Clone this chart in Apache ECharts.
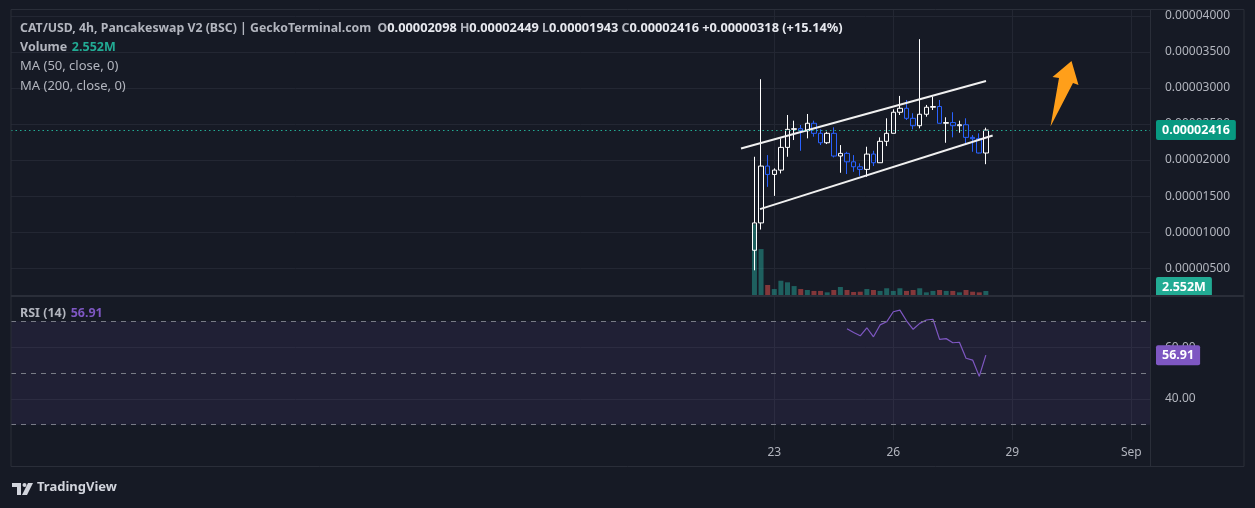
<!DOCTYPE html>
<html><head><meta charset="utf-8">
<script src="https://cdn.jsdelivr.net/npm/echarts@6/dist/echarts.min.js"></script>
<style>html,body{margin:0;padding:0;background:#161a25;}#c{width:1255px;height:508px;}</style>
</head><body><div id="c"></div>
<script>
// ---- data (4h bars, CAT/USD) ----
const times = ['08-22 12:00','08-22 16:00','08-22 20:00',
  '08-23 00:00','08-23 04:00','08-23 08:00','08-23 12:00','08-23 16:00','08-23 20:00',
  '08-24 00:00','08-24 04:00','08-24 08:00','08-24 12:00','08-24 16:00','08-24 20:00',
  '08-25 00:00','08-25 04:00','08-25 08:00','08-25 12:00','08-25 16:00','08-25 20:00',
  '08-26 00:00','08-26 04:00','08-26 08:00','08-26 12:00','08-26 16:00','08-26 20:00',
  '08-27 00:00','08-27 04:00','08-27 08:00','08-27 12:00','08-27 16:00','08-27 20:00',
  '08-28 00:00','08-28 04:00','08-28 08:00'];
const opens  = [0.00000750,0.00001129,0.00001917,0.00001801,0.00001861,0.00002176,0.00002426,0.00002435,0.00002407,0.00002510,0.00002371,0.00002240,
                0.00002371,0.00002056,0.00002093,0.00001976,0.00001907,0.00001871,0.00002083,0.00001963,0.00002260,0.00002371,0.00002663,0.00002718,
                0.00002579,0.00002476,0.00002635,0.00002732,0.00002742,0.00002510,0.00002520,0.00002476,0.00002490,0.00002315,0.00002296,0.00002098];
const highs  = [0.00002046,0.00003121,0.00002069,0.00001885,0.00002300,0.00002625,0.00002546,0.00002486,0.00002639,0.00002546,0.00002426,0.00002393,
                0.00002454,0.00002208,0.00002115,0.00002069,0.00001954,0.00002185,0.00002129,0.00002315,0.00002579,0.00002704,0.00002889,0.00002833,
                0.00002649,0.00003676,0.00002764,0.00002879,0.00002833,0.00002593,0.00002663,0.00002546,0.00002579,0.00002347,0.00002371,0.00002449];
const lows   = [0.00000472,0.00001037,0.00001629,0.00001504,0.00001815,0.00002046,0.00002278,0.00002129,0.00002301,0.00002324,0.00002208,0.00002222,
                0.00002037,0.00001824,0.00001806,0.00001837,0.00001782,0.00001768,0.00001917,0.00001963,0.00002194,0.00002371,0.00002625,0.00002556,
                0.00002426,0.00002440,0.00002601,0.00002694,0.00002510,0.00002240,0.00002315,0.00002379,0.00002208,0.00002115,0.00002093,0.00001943];
const closes = [0.00001129,0.00001917,0.00001801,0.00001861,0.00002176,0.00002426,0.00002435,0.00002407,0.00002510,0.00002371,0.00002240,0.00002371,
                0.00002056,0.00002093,0.00001976,0.00001907,0.00001871,0.00002083,0.00001963,0.00002260,0.00002371,0.00002663,0.00002718,0.00002579,
                0.00002476,0.00002635,0.00002732,0.00002742,0.00002510,0.00002520,0.00002476,0.00002490,0.00002315,0.00002296,0.00002098,0.00002416];
const volumesM = [45.1,29.3,6.4,3.8,9.1,8.1,5.7,3.8,3.2,2.6,2.6,1.7,
                  3.2,5.1,3.2,1.9,2.1,3.8,3.2,2.6,4.3,2.6,4.3,2.6,
                  3.2,4.3,1.7,2.6,3.2,2.6,2.6,1.7,3.2,2.1,1.7,2.552];
// RSI(14) starts at bar index 14
const rsiStart = 14;
const rsiValues = [67.1,65.7,64.4,67.5,64.0,68.6,69.8,73.7,74.3,70.2,66.9,69.2,70.5,70.8,63.0,63.3,61.7,61.9,55.7,55.0,48.7,56.91];
// channel trend lines: [time, price]
const upperLine = [['08-22 03:52', 0.0000216], ['08-28 08:05', 0.00003097]];
const lowerLine = [['08-22 15:22', 0.0000132], ['08-28 12:07', 0.0000234]];
// axis ticks
const xTickDays = [23, 26, 29, 32];
const xTickLabels = ['23', '26', '29', 'Sep'];
const priceTicks = [0.000005, 0.00001, 0.000015, 0.00002, 0.000025, 0.00003, 0.000035, 0.00004];
const rsiTicks = [40, 60];
const rsiLevels = [70, 50, 30];
const header = {pair: 'CAT/USD, 4h, Pancakeswap V2 (BSC) | GeckoTerminal.com', o: '0.00002098', h: '0.00002449', l: '0.00001943', c: '0.00002416', chg: '+0.00000318 (+15.14%)'};
const volumeLabel = '2.552M';

// ---- helpers ----
function toDay(s) { const [md, hm] = s.split(' '); const [m, d] = md.split('-').map(Number); const [h, mi] = hm.split(':').map(Number); return (m === 9 ? 31 : 0) + d + (h + mi / 60) / 24; }
const X = times.map(toDay);
const XMIN = 3.759, XMAX = 32.471;
const FONT = 'Noto Sans';
const GRIDC = '#232733';
const TXT = '#b2b5be';
const CLEAR = 'rgba(0,0,0,0)';

const candleData = X.map((x, i) => [x, opens[i], closes[i], lows[i], highs[i]]);
const volData = X.map((x, i) => ({value: [x, volumesM[i]], itemStyle: {color: closes[i] >= opens[i] ? 'rgba(38,166,154,0.5)' : 'rgba(239,83,80,0.5)'}}));
const rsiData = rsiValues.map((v, k) => [X[rsiStart + k], v]);
const last = closes.length - 1;

function xAxisBase(gridIndex, showLabel, showSplit) {
  return {
    type: 'value', gridIndex, min: XMIN, max: XMAX,
    axisLine: {show: false},
    axisTick: {show: false, customValues: xTickDays},
    axisLabel: {show: showLabel, customValues: xTickDays, color: TXT, fontSize: 12, fontFamily: FONT, margin: 7,
      formatter: v => xTickLabels[xTickDays.indexOf(Math.round(v))] || ''},
    splitLine: {show: showSplit, lineStyle: {color: GRIDC, width: 1}}
  };
}
function boxLabel(text, bg) {
  return {show: true, position: 'end', distance: 6, opacity: 1, formatter: () => text, color: '#ffffff', fontSize: 12.5, fontWeight: 'bold', fontFamily: FONT,
    backgroundColor: bg, padding: [4, 6, 3, 6], borderRadius: 2};
}
const HF = 12.3;
const chart = echarts.init(document.getElementById('c'), null, {renderer: 'canvas'});
chart.setOption({
  backgroundColor: '#161a25',
  animation: false,
  textStyle: {fontFamily: FONT},
  title: [
    {left: 20, top: 22, padding: 0,
     text: `{p|${header.pair}}  {k|O}{v|${header.o}} {k|H}{v|${header.h}} {k|L}{v|${header.l}} {k|C}{v|${header.c}} {v|${header.chg}}`,
     textStyle: {fontSize: HF, fontFamily: FONT, rich: {
       p: {fontSize: HF, fontFamily: FONT, color: TXT},
       k: {fontSize: HF, fontFamily: FONT, color: TXT},
       v: {fontSize: 12.8, fontFamily: FONT, color: '#e6e8ee', fontWeight: 'bold'}}}},
    {left: 20, top: 38, padding: 0, text: `{k|Volume} {g|${volumeLabel}}`,
     textStyle: {rich: {k: {fontSize: 12.5, fontFamily: FONT, color: TXT}, g: {fontSize: 12.5, fontFamily: FONT, color: '#22ab94'}}}},
    {left: 20, top: 60, padding: 0, text: 'MA (50, close, 0)', textStyle: {fontSize: 13, fontFamily: FONT, color: TXT, fontWeight: 'normal'}},
    {left: 20, top: 80, padding: 0, text: 'MA (200, close, 0)', textStyle: {fontSize: 13, fontFamily: FONT, color: TXT, fontWeight: 'normal'}},
    {left: 20, top: 304, padding: 0, text: `{k|RSI (14)} {r|${rsiValues[rsiValues.length - 1].toFixed(2)}}`,
     textStyle: {rich: {k: {fontSize: 12.5, fontFamily: FONT, color: TXT}, r: {fontSize: 12.5, fontFamily: FONT, color: '#7e57c2'}}}}
  ],
  grid: [
    {left: 11, right: 105, top: 10, bottom: 213},
    {left: 11, right: 105, top: 195, bottom: 213},
    {left: 11, right: 105, top: 297, bottom: 68}
  ],
  xAxis: [xAxisBase(0, false, true), xAxisBase(1, false, false), xAxisBase(2, true, true)],
  yAxis: [
    {type: 'value', gridIndex: 0, position: 'right', min: 0.0000013, max: 0.0000408, scale: true,
     axisLine: {show: false}, axisTick: {show: false, customValues: priceTicks},
     axisLabel: {customValues: priceTicks, color: TXT, fontSize: 12, fontFamily: FONT, margin: 15, formatter: v => v.toFixed(8)},
     splitLine: {show: true, lineStyle: {color: GRIDC}}},
    {type: 'value', gridIndex: 1, min: 0, max: 63.8, show: false, splitLine: {show: false}},
    {type: 'value', gridIndex: 2, position: 'right', min: 24.08, max: 79.40,
     axisLine: {show: false}, axisTick: {show: false, customValues: rsiTicks},
     axisLabel: {customValues: rsiTicks, color: TXT, fontSize: 12, fontFamily: FONT, margin: 15, formatter: v => v.toFixed(2)},
     splitLine: {show: true, lineStyle: {color: GRIDC}}}
  ],
  series: [
    {type: 'bar', name: 'Volume', xAxisIndex: 1, yAxisIndex: 1, barWidth: 5, data: volData, z: 1},
    // last volume marker (carries the axis value tag)
    {type: 'line', name: 'VolumeLast', xAxisIndex: 1, yAxisIndex: 1, z: 5, symbol: 'none', clip: false,
     data: [[X[last], volumesM[last]]], lineStyle: {color: CLEAR},
     markLine: {silent: true, precision: 10, symbol: ['none', 'none'], lineStyle: {color: CLEAR, width: 0},
       data: [{yAxis: volumesM[last], label: Object.assign(boxLabel(volumeLabel, '#22ab94'), {offset: [0, -4]})}]}},
    {type: 'candlestick', name: 'CAT/USD', xAxisIndex: 0, yAxisIndex: 0, barWidth: 5, z: 3,
     encode: {x: 0, y: [1, 2, 3, 4]}, data: candleData,
     itemStyle: {color: CLEAR, color0: CLEAR, borderColor: '#ffffff', borderColor0: '#2962ff', borderWidth: 1}},
    {type: 'line', name: 'upper', xAxisIndex: 0, yAxisIndex: 0, z: 4, symbol: 'none', clip: false, data: upperLine.map(p => [toDay(p[0]), p[1]]),
     lineStyle: {color: '#f0f0f0', width: 2},
     markLine: {silent: true, precision: 10, symbol: ['none', 'none'],
       data: [{yAxis: closes[last], lineStyle: {color: '#22ab94', type: [1.5, 3], width: 1.2}, label: boxLabel(closes[last].toFixed(8), '#089981')}]}},
    {type: 'line', name: 'lower', xAxisIndex: 0, yAxisIndex: 0, z: 4, symbol: 'none', data: lowerLine.map(p => [toDay(p[0]), p[1]]),
     lineStyle: {color: '#f0f0f0', width: 2}},
    {type: 'line', name: 'RSI', xAxisIndex: 2, yAxisIndex: 2, z: 3, symbol: 'none', data: rsiData, clip: false,
     lineStyle: {color: '#7e57c2', width: 1.2},
     markArea: {silent: true, itemStyle: {color: 'rgba(126,87,194,0.1)'}, data: [[{yAxis: rsiLevels[0]}, {yAxis: rsiLevels[2]}]]},
     markLine: {silent: true, precision: 10, symbol: ['none', 'none'],
       data: [
         ...rsiLevels.map(v => ({yAxis: v, label: {show: false}, lineStyle: {color: '#787b86', type: [5, 5], width: 1}})),
         {yAxis: rsiValues[rsiValues.length - 1], lineStyle: {color: CLEAR, width: 0},
          label: boxLabel(rsiValues[rsiValues.length - 1].toFixed(2), '#7e57c2')}
       ]}}
  ],
  graphic: [
    {type: 'rect', silent: true, z: 100, shape: {x: 11, y: 9.5, width: 1233, height: 457}, style: {fill: 'none', stroke: '#2a2e39', lineWidth: 1}},
    {type: 'line', silent: true, z: 100, shape: {x1: 1150.5, y1: 10, x2: 1150.5, y2: 467}, style: {stroke: '#2a2e39', lineWidth: 1}},
    {type: 'line', silent: true, z: 100, shape: {x1: 11, y1: 296, x2: 1244, y2: 296}, style: {stroke: '#2a2e39', lineWidth: 2}},
    // orange arrow annotation
    {type: 'polygon', silent: true, z: 100, shape: {points: [[1071.5, 61], [1078.5, 85], [1073, 83], [1050.5, 126.5], [1059, 78], [1052.5, 77]]}, style: {fill: '#ff9f1a'}},
    // TradingView logo
    {type: 'polygon', silent: true, z: 100, shape: {points: [[12, 483], [21, 483], [21, 495], [17, 495], [17, 487], [12, 487]]}, style: {fill: '#d1d4dc'}},
    {type: 'circle', silent: true, z: 100, shape: {cx: 24.5, cy: 485, r: 2}, style: {fill: '#d1d4dc'}},
    {type: 'polygon', silent: true, z: 100, shape: {points: [[28, 483], [33, 483], [27, 495], [22, 495]]}, style: {fill: '#d1d4dc'}},
    {type: 'text', silent: true, z: 100, left: 37, top: 481, style: {text: 'TradingView', fill: '#d1d4dc', font: 'bold 13px "Noto Sans"'}}
  ]
});
</script></body></html>
